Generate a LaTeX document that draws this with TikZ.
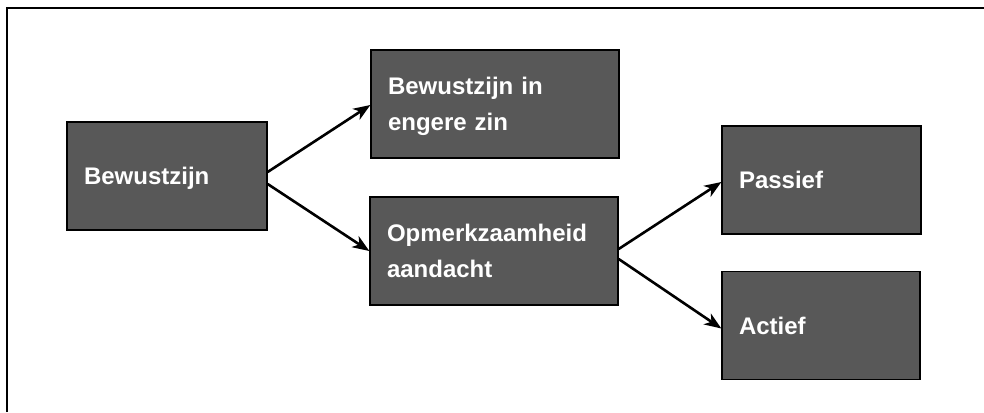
\documentclass[tikz,border=0pt]{standalone}
\usepackage{fontspec}
\setmainfont{Liberation Sans}
\usetikzlibrary{arrows.meta,calc}
\definecolor{boxgray}{HTML}{585858}
\begin{document}
\begin{tikzpicture}[x=1pt,y=-1pt,
  box/.style={draw=black, line width=1.3pt, fill=boxgray, text=white,
    font=\fontsize{24pt}{36.5pt}\selectfont\bfseries,
    rectangle, inner xsep=17pt, inner ysep=0pt, align=left,
    minimum height=108pt, text height=17.2pt},
  onebox/.style={box, text depth=0pt},
  twobox/.style={box, text depth=36.5pt},
  arr/.style={line width=2.6pt, -{Stealth[length=17pt,width=13pt,inset=5pt]}},
  frameline/.style={line width=2pt, black}]
\useasboundingbox (0,0) rectangle (984,412);
\coordinate (fl) at (7,412);
\coordinate (fc) at (7,8);
\coordinate (fr) at (984,8);
\draw[frameline] (fl) -- (fc) -- (fr);
\node[onebox, minimum width=200pt, text width=166pt] (b1) at (167,176) {Bewustzijn};
\node[twobox, minimum width=248pt, text width=214pt] (b2) at (495,104) {Bewustzijn in\\engere zin};
\node[twobox, minimum width=248pt, text width=214pt] (b3) at (494,251) {Opmerkzaamheid\\aandacht};
\node[onebox, minimum width=199pt, text width=165pt] (b4) at (821.5,180) {Passief};
\node[onebox, minimum width=198pt, text width=164pt] (b5) at (821,325.5) {Actief};
\draw[arr] ($(b1.east)+(0,-4)$) -- ($(b2.west)+(0,1)$);
\draw[arr] ($(b1.east)+(0,8)$) -- (b3.west);
\draw[arr] ($(b3.east)+(0,-2)$) -- ($(b4.west)+(0,2)$);
\draw[arr] ($(b3.east)+(0,8)$) -- ($(b5.west)+(0,3)$);
\end{tikzpicture}
\end{document}
